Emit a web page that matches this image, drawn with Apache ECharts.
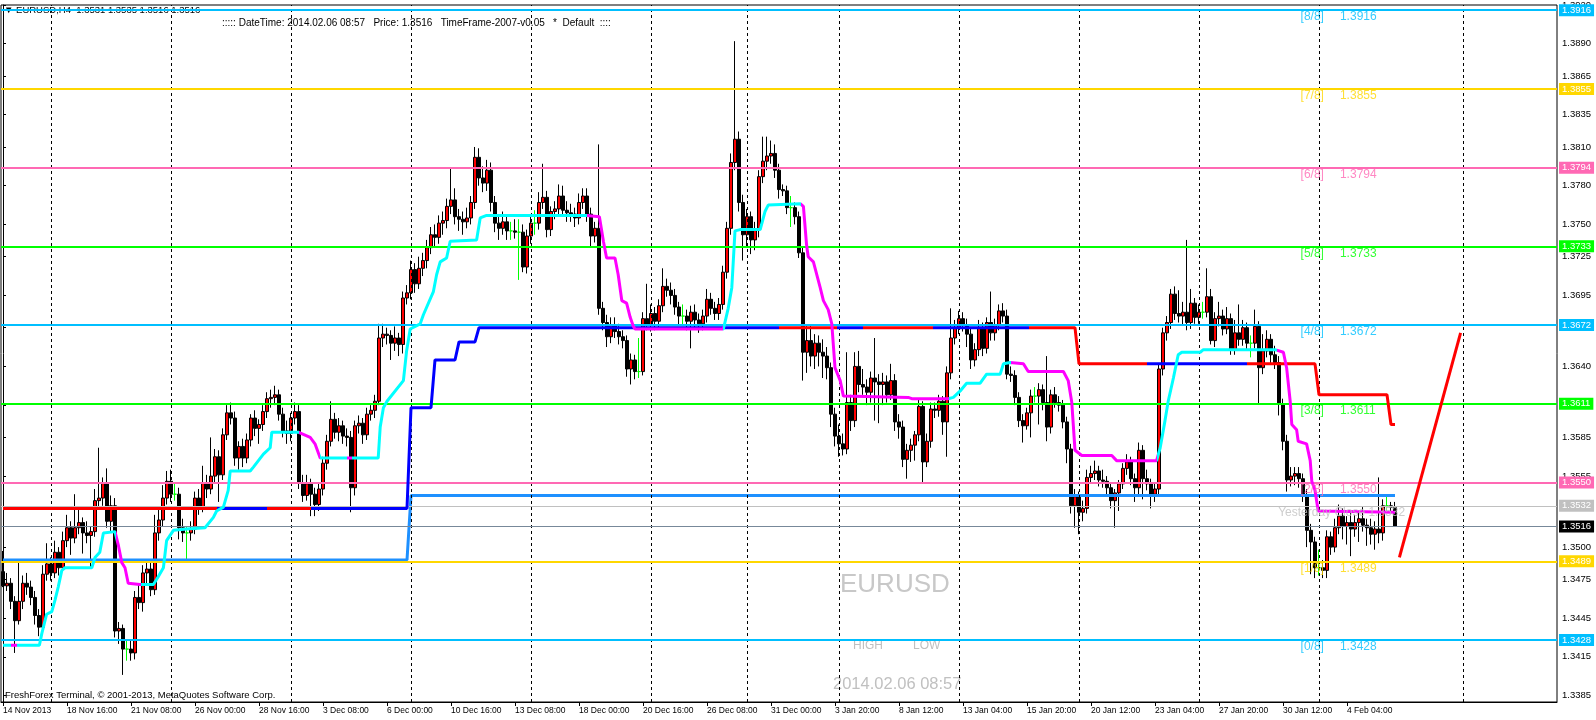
<!DOCTYPE html>
<html>
<head>
<meta charset="utf-8">
<script src="https://cdn.jsdelivr.net/npm/echarts/dist/echarts.min.js"></script>
<style>html,body{margin:0;padding:0;background:#fff}#c{width:1596px;height:720px}</style>
</head>
<body>
<div id="c"></div>
<script>
// ---------------- DATA ----------------
const xTickLabels = ['14 Nov 2013','18 Nov 16:00','21 Nov 08:00','26 Nov 00:00','28 Nov 16:00','3 Dec 08:00','6 Dec 00:00','10 Dec 16:00','13 Dec 08:00','18 Dec 00:00','20 Dec 16:00','26 Dec 08:00','31 Dec 00:00','3 Jan 20:00','8 Jan 12:00','13 Jan 04:00','15 Jan 20:00','20 Jan 12:00','23 Jan 04:00','27 Jan 20:00','30 Jan 12:00','4 Feb 04:00'];
const yTickValues = [1.3385,1.3415,1.3445,1.3475,1.3500,1.3530,1.3555,1.3585,1.3610,1.3640,1.3670,1.3695,1.3725,1.3750,1.3780,1.3810,1.3835,1.3865,1.3890,1.3920];
const weekStartBars = [12,42,72,102,132,162,186,209,239,269,299,329,365];

// H4 bars: [open, high, low, close]
const ohlc = [
[1.3481,1.3497,1.3469,1.3470],[1.3470,1.3480,1.3466,1.3472],[1.3472,1.3476,1.3452,1.3458],[1.3458,1.3462,1.3418,1.3443],[1.3443,1.3488,1.3440,1.3458],[1.3458,1.3478,1.3452,1.3472],
[1.3472,1.3480,1.3463,1.3469],[1.3469,1.3474,1.3455,1.3461],[1.3461,1.3466,1.3440,1.3447],[1.3447,1.3452,1.3431,1.3438],[1.3438,1.3486,1.3435,1.3479],[1.3479,1.3503,1.3474,1.3487],
[1.3487,1.3492,1.3474,1.3480],[1.3480,1.3505,1.3476,1.3496],[1.3496,1.3500,1.3478,1.3484],[1.3484,1.3512,1.3481,1.3505],[1.3505,1.3525,1.3500,1.3515],[1.3515,1.3520,1.3494,1.3507],
[1.3507,1.3541,1.3503,1.3515],[1.3515,1.3530,1.3510,1.3519],[1.3519,1.3523,1.3495,1.3511],[1.3511,1.3520,1.3503,1.3509],[1.3509,1.3516,1.3484,1.3512],[1.3512,1.3545,1.3508,1.3536],
[1.3536,1.3577,1.3530,1.3538],[1.3538,1.3554,1.3532,1.3550],[1.3550,1.3561,1.3515,1.3520],[1.3520,1.3540,1.3512,1.3532],[1.3532,1.3538,1.3430,1.3435],[1.3435,1.3442,1.3425,1.3437],
[1.3437,1.3440,1.3401,1.3421],[1.3421,1.3428,1.3412,1.3421],[1.3421,1.3428,1.3412,1.3418],[1.3418,1.3466,1.3413,1.3461],[1.3461,1.3472,1.3452,1.3457],[1.3457,1.3486,1.3450,1.3480],
[1.3480,1.3490,1.3470,1.3483],[1.3483,1.3488,1.3462,1.3467],[1.3467,1.3525,1.3463,1.3511],[1.3511,1.3530,1.3505,1.3521],[1.3521,1.3548,1.3516,1.3538],[1.3538,1.3559,1.3533,1.3551],
[1.3551,1.3560,1.3535,1.3541],[1.3541,1.3550,1.3536,1.3541],[1.3541,1.3546,1.3506,1.3515],[1.3515,1.3522,1.3504,1.3511],[1.3511,1.3516,1.3489,1.3511],[1.3511,1.3520,1.3505,1.3514],
[1.3514,1.3543,1.3510,1.3538],[1.3538,1.3545,1.3525,1.3531],[1.3531,1.3563,1.3527,1.3550],[1.3550,1.3556,1.3538,1.3545],[1.3545,1.3585,1.3541,1.3555],[1.3555,1.3576,1.3550,1.3570],
[1.3570,1.3575,1.3535,1.3556],[1.3556,1.3592,1.3552,1.3587],[1.3587,1.3610,1.3583,1.3604],[1.3604,1.3612,1.3595,1.3600],[1.3600,1.3605,1.3563,1.3569],[1.3569,1.3582,1.3560,1.3578],
[1.3578,1.3584,1.3562,1.3569],[1.3569,1.3588,1.3565,1.3583],[1.3583,1.3603,1.3578,1.3600],[1.3600,1.3606,1.3586,1.3592],[1.3592,1.3599,1.3580,1.3595],[1.3595,1.3610,1.3590,1.3605],
[1.3605,1.3620,1.3600,1.3615],[1.3615,1.3622,1.3608,1.3616],[1.3616,1.3625,1.3610,1.3618],[1.3618,1.3622,1.3598,1.3603],[1.3603,1.3608,1.3585,1.3590],[1.3590,1.3598,1.3580,1.3588],
[1.3588,1.3604,1.3582,1.3600],[1.3600,1.3612,1.3595,1.3605],[1.3605,1.3610,1.3545,1.3550],[1.3550,1.3556,1.3535,1.3540],[1.3540,1.3556,1.3536,1.3549],[1.3549,1.3553,1.3524,1.3541],
[1.3541,1.3546,1.3524,1.3533],[1.3533,1.3550,1.3528,1.3545],[1.3545,1.3570,1.3540,1.3565],[1.3565,1.3587,1.3560,1.3582],[1.3582,1.3613,1.3578,1.3599],[1.3599,1.3604,1.3584,1.3589],
[1.3589,1.3600,1.3582,1.3594],[1.3594,1.3598,1.3580,1.3586],[1.3586,1.3592,1.3578,1.3585],[1.3585,1.3590,1.3527,1.3546],[1.3546,1.3598,1.3540,1.3594],[1.3594,1.3602,1.3588,1.3596],
[1.3596,1.3600,1.3580,1.3587],[1.3587,1.3608,1.3583,1.3603],[1.3603,1.3610,1.3598,1.3606],[1.3606,1.3618,1.3600,1.3613],[1.3613,1.3673,1.3610,1.3662],[1.3662,1.3673,1.3655,1.3665],
[1.3665,1.3670,1.3657,1.3664],[1.3664,1.3668,1.3645,1.3658],[1.3658,1.3671,1.3652,1.3662],[1.3662,1.3666,1.3648,1.3657],[1.3657,1.3698,1.3650,1.3693],[1.3693,1.3703,1.3688,1.3697],
[1.3697,1.3722,1.3692,1.3715],[1.3715,1.3720,1.3697,1.3704],[1.3704,1.3725,1.3700,1.3716],[1.3716,1.3728,1.3710,1.3722],[1.3722,1.3738,1.3716,1.3732],[1.3732,1.3748,1.3727,1.3742],
[1.3742,1.3750,1.3733,1.3740],[1.3740,1.3757,1.3735,1.3751],[1.3751,1.3760,1.3742,1.3753],[1.3753,1.3770,1.3747,1.3764],[1.3764,1.3794,1.3758,1.3769],[1.3769,1.3778,1.3750,1.3756],
[1.3756,1.3762,1.3745,1.3754],[1.3754,1.3760,1.3742,1.3752],[1.3752,1.3763,1.3747,1.3755],[1.3755,1.3772,1.3750,1.3767],[1.3767,1.3810,1.3762,1.3802],[1.3802,1.3809,1.3780,1.3786],
[1.3786,1.3795,1.3775,1.3782],[1.3782,1.3800,1.3776,1.3792],[1.3792,1.3798,1.3760,1.3767],[1.3767,1.3772,1.3744,1.3751],[1.3751,1.3758,1.3738,1.3747],[1.3747,1.3760,1.3742,1.3752],
[1.3752,1.3757,1.3738,1.3745],[1.3745,1.3752,1.3738,1.3745],[1.3745,1.3754,1.3739,1.3744],[1.3744,1.3754,1.3707,1.3744],[1.3744,1.3750,1.3713,1.3717],[1.3717,1.3746,1.3712,1.3741],
[1.3741,1.3756,1.3735,1.3751],[1.3751,1.3761,1.3742,1.3751],[1.3751,1.3775,1.3746,1.3767],[1.3767,1.3797,1.3762,1.3771],[1.3771,1.3776,1.3740,1.3746],[1.3746,1.3764,1.3741,1.3760],
[1.3760,1.3768,1.3754,1.3762],[1.3762,1.3781,1.3757,1.3772],[1.3772,1.3780,1.3756,1.3761],[1.3761,1.3768,1.3752,1.3759],[1.3759,1.3766,1.3752,1.3758],[1.3758,1.3763,1.3748,1.3755],
[1.3755,1.3774,1.3750,1.3767],[1.3767,1.3778,1.3762,1.3772],[1.3772,1.3778,1.3752,1.3758],[1.3758,1.3763,1.3733,1.3741],[1.3741,1.3752,1.3736,1.3747],[1.3747,1.3812,1.3680,1.3685],
[1.3685,1.3690,1.3668,1.3674],[1.3674,1.3680,1.3655,1.3663],[1.3663,1.3678,1.3658,1.3672],[1.3672,1.3678,1.3662,1.3667],[1.3667,1.3673,1.3657,1.3663],[1.3663,1.3668,1.3654,1.3660],
[1.3660,1.3664,1.3632,1.3638],[1.3638,1.3650,1.3626,1.3645],[1.3645,1.3649,1.3630,1.3636],[1.3636,1.3662,1.3631,1.3636],[1.3636,1.3682,1.3633,1.3677],[1.3677,1.3704,1.3668,1.3672],
[1.3672,1.3688,1.3667,1.3681],[1.3681,1.3686,1.3668,1.3675],[1.3675,1.3692,1.3670,1.3687],[1.3687,1.3716,1.3682,1.3702],[1.3702,1.3708,1.3694,1.3699],[1.3699,1.3705,1.3688,1.3695],
[1.3695,1.3700,1.3680,1.3686],[1.3686,1.3690,1.3672,1.3679],[1.3679,1.3688,1.3672,1.3679],[1.3679,1.3684,1.3668,1.3675],[1.3675,1.3687,1.3654,1.3682],[1.3682,1.3688,1.3670,1.3676],
[1.3676,1.3681,1.3666,1.3673],[1.3673,1.3684,1.3668,1.3679],[1.3679,1.3700,1.3674,1.3692],[1.3692,1.3697,1.3680,1.3685],[1.3685,1.3690,1.3676,1.3681],[1.3681,1.3693,1.3676,1.3688],
[1.3688,1.3718,1.3684,1.3713],[1.3713,1.3752,1.3708,1.3747],[1.3747,1.3805,1.3742,1.3798],[1.3798,1.3892,1.3792,1.3816],[1.3816,1.3822,1.3760,1.3767],[1.3767,1.3773,1.3722,1.3742],
[1.3742,1.3762,1.3732,1.3756],[1.3756,1.3760,1.3727,1.3738],[1.3738,1.3752,1.3730,1.3746],[1.3746,1.3792,1.3740,1.3787],[1.3787,1.3818,1.3782,1.3799],[1.3799,1.3818,1.3792,1.3803],
[1.3803,1.3815,1.3797,1.3805],[1.3805,1.3812,1.3786,1.3792],[1.3792,1.3797,1.3770,1.3777],[1.3777,1.3781,1.3772,1.3776],[1.3776,1.3780,1.3758,1.3763],[1.3763,1.3772,1.3748,1.3763],
[1.3763,1.3767,1.3750,1.3756],[1.3756,1.3760,1.3724,1.3728],[1.3728,1.3733,1.3629,1.3651],[1.3651,1.3672,1.3635,1.3660],[1.3660,1.3672,1.3640,1.3648],[1.3648,1.3665,1.3638,1.3658],
[1.3658,1.3664,1.3640,1.3651],[1.3651,1.3661,1.3631,1.3648],[1.3648,1.3655,1.3630,1.3639],[1.3639,1.3643,1.3593,1.3603],[1.3603,1.3608,1.3578,1.3586],[1.3586,1.3595,1.3570,1.3580],
[1.3580,1.3588,1.3571,1.3576],[1.3576,1.3651,1.3572,1.3612],[1.3612,1.3618,1.3590,1.3598],[1.3598,1.3651,1.3593,1.3640],[1.3640,1.3652,1.3620,1.3626],[1.3626,1.3638,1.3618,1.3624],
[1.3624,1.3630,1.3610,1.3620],[1.3620,1.3636,1.3612,1.3631],[1.3631,1.3662,1.3598,1.3628],[1.3628,1.3634,1.3596,1.3626],[1.3626,1.3635,1.3610,1.3628],[1.3628,1.3633,1.3612,1.3618],
[1.3618,1.3642,1.3614,1.3629],[1.3629,1.3634,1.3590,1.3597],[1.3597,1.3603,1.3584,1.3593],[1.3593,1.3598,1.3562,1.3568],[1.3568,1.3580,1.3553,1.3575],[1.3575,1.3584,1.3566,1.3579],
[1.3579,1.3590,1.3567,1.3587],[1.3587,1.3614,1.3582,1.3609],[1.3609,1.3613,1.3549,1.3566],[1.3566,1.3588,1.3562,1.3582],[1.3582,1.3612,1.3577,1.3607],[1.3607,1.3612,1.3600,1.3606],
[1.3606,1.3618,1.3601,1.3613],[1.3613,1.3617,1.3587,1.3597],[1.3597,1.3640,1.3570,1.3635],[1.3635,1.3685,1.3630,1.3662],[1.3662,1.3676,1.3657,1.3670],[1.3670,1.3683,1.3665,1.3677],
[1.3677,1.3682,1.3667,1.3672],[1.3672,1.3677,1.3655,1.3665],[1.3665,1.3669,1.3638,1.3645],[1.3645,1.3658,1.3640,1.3653],[1.3653,1.3676,1.3648,1.3670],[1.3670,1.3674,1.3648,1.3654],
[1.3654,1.3678,1.3650,1.3674],[1.3674,1.3698,1.3660,1.3666],[1.3666,1.3677,1.3660,1.3672],[1.3672,1.3688,1.3668,1.3683],[1.3683,1.3689,1.3674,1.3679],[1.3679,1.3684,1.3630,1.3634],
[1.3634,1.3640,1.3628,1.3633],[1.3633,1.3637,1.3610,1.3616],[1.3616,1.3620,1.3593,1.3598],[1.3598,1.3603,1.3581,1.3594],[1.3594,1.3608,1.3591,1.3604],[1.3604,1.3622,1.3585,1.3617],
[1.3617,1.3624,1.3612,1.3617],[1.3617,1.3627,1.3595,1.3622],[1.3622,1.3626,1.3606,1.3612],[1.3612,1.3648,1.3582,1.3593],[1.3593,1.3622,1.3588,1.3618],[1.3618,1.3624,1.3608,1.3612],
[1.3612,1.3617,1.3605,1.3610],[1.3610,1.3614,1.3592,1.3597],[1.3597,1.3601,1.3565,1.3576],[1.3576,1.3580,1.3526,1.3532],[1.3532,1.3545,1.3515,1.3539],[1.3539,1.3543,1.3510,1.3527],
[1.3527,1.3536,1.3520,1.3530],[1.3530,1.3560,1.3526,1.3554],[1.3554,1.3563,1.3550,1.3557],[1.3557,1.3567,1.3552,1.3559],[1.3559,1.3563,1.3547,1.3552],[1.3552,1.3560,1.3546,1.3551],
[1.3551,1.3555,1.3540,1.3546],[1.3546,1.3550,1.3530,1.3536],[1.3536,1.3545,1.3515,1.3542],[1.3542,1.3552,1.3528,1.3549],[1.3549,1.3565,1.3545,1.3561],[1.3561,1.3572,1.3556,1.3566],
[1.3566,1.3570,1.3548,1.3553],[1.3553,1.3557,1.3535,1.3546],[1.3546,1.3581,1.3541,1.3575],[1.3575,1.3579,1.3537,1.3553],[1.3553,1.3560,1.3544,1.3549],[1.3549,1.3553,1.3530,1.3541],
[1.3541,1.3550,1.3535,1.3545],[1.3545,1.3642,1.3540,1.3638],[1.3638,1.3670,1.3633,1.3666],[1.3666,1.3679,1.3660,1.3674],[1.3674,1.3700,1.3669,1.3696],[1.3696,1.3702,1.3676,1.3681],
[1.3681,1.3699,1.3674,1.3679],[1.3679,1.3690,1.3672,1.3682],[1.3682,1.3738,1.3668,1.3674],[1.3674,1.3700,1.3669,1.3689],[1.3689,1.3693,1.3673,1.3678],[1.3678,1.3688,1.3673,1.3682],
[1.3682,1.3690,1.3677,1.3682],[1.3682,1.3716,1.3678,1.3694],[1.3694,1.3700,1.3657,1.3660],[1.3660,1.3682,1.3655,1.3677],[1.3677,1.3690,1.3671,1.3679],[1.3679,1.3684,1.3664,1.3669],
[1.3669,1.3686,1.3665,1.3677],[1.3677,1.3681,1.3649,1.3653],[1.3653,1.3676,1.3649,1.3666],[1.3666,1.3688,1.3656,1.3661],[1.3661,1.3676,1.3656,1.3670],[1.3670,1.3674,1.3652,1.3658],
[1.3658,1.3664,1.3647,1.3658],[1.3658,1.3684,1.3654,1.3671],[1.3671,1.3675,1.3611,1.3639],[1.3639,1.3665,1.3634,1.3652],[1.3652,1.3668,1.3647,1.3661],[1.3661,1.3665,1.3642,1.3649],
[1.3649,1.3656,1.3638,1.3643],[1.3643,1.3648,1.3602,1.3611],[1.3611,1.3615,1.3575,1.3582],[1.3582,1.3587,1.3543,1.3552],[1.3552,1.3562,1.3547,1.3555],[1.3555,1.3562,1.3548,1.3557],
[1.3557,1.3562,1.3546,1.3553],[1.3553,1.3557,1.3535,1.3540],[1.3540,1.3545,1.3500,1.3513],[1.3513,1.3518,1.3479,1.3504],[1.3504,1.3508,1.3476,1.3484],[1.3484,1.3498,1.3478,1.3484],
[1.3484,1.3490,1.3476,1.3482],[1.3482,1.3513,1.3476,1.3508],[1.3508,1.3512,1.3494,1.3500],[1.3500,1.3522,1.3496,1.3515],[1.3515,1.3533,1.3510,1.3524],[1.3524,1.3530,1.3506,1.3516],
[1.3516,1.3524,1.3502,1.3519],[1.3519,1.3527,1.3493,1.3514],[1.3514,1.3525,1.3508,1.3519],[1.3519,1.3527,1.3504,1.3522],[1.3522,1.3531,1.3512,1.3517],[1.3517,1.3522,1.3501,1.3515],
[1.3515,1.3522,1.3502,1.3510],[1.3510,1.3520,1.3498,1.3514],[1.3514,1.3554,1.3503,1.3511],[1.3511,1.3537,1.3505,1.3532],[1.3532,1.3539,1.3527,1.3532],[1.3532,1.3535,1.3528,1.3531],
[1.3531,1.3535,1.3516,1.3516]
];

// Murrey Math levels
const murreyNames  = ['[0/8]','[1/8]','[2/8]','[3/8]','[4/8]','[5/8]','[6/8]','[7/8]','[8/8]'];
const murreyLevels = [1.3428,1.3489,1.3550,1.3611,1.3672,1.3733,1.3794,1.3855,1.3916];
const yesterdayClose = 1.3532;
const bidPrice = 1.3516;

// Step trend line (red / blue): [bar, price]
const trendA = [[0,1.3530],[101,1.3530],[102,1.3608],[107,1.3608],[108,1.3645],[113,1.3645],[114,1.3659],[118,1.3659],[119,1.3670],[268,1.3670],[269,1.3642],[328,1.3642],[329,1.3618],[346,1.3618],[347,1.3595],[348,1.3595]];
const trendAState = [[0,'dn'],[53.5,'up'],[66,'dn'],[77,'up'],[194,'dn'],[208.5,'up'],[215,'dn'],[232.5,'up'],[256.5,'dn'],[286,'up'],[311,'dn']];

// Range line (dodger blue)
const rangeB = [[0,1.3490],[101,1.3490],[102,1.3540],[348,1.3540]];

// Trailing line (aqua / magenta)
const trailC = [[0,1.3424],[9.1,1.3424],[9.7,1.3433],[10.9,1.3448],[12.2,1.3450],[13,1.3459],[13.8,1.3469],[14.7,1.3482],[15.5,1.3484],[22.2,1.3484],[23,1.3492],[24.2,1.3496],[25.1,1.3511],[28,1.3512],[28.8,1.3502],[29.7,1.3488],[30.5,1.3484],[31.3,1.3472],[34.2,1.3471],[37.6,1.3471],[38.8,1.3477],[40.1,1.3484],[40.9,1.3505],[42.6,1.3513],[45.9,1.3514],[50.5,1.3515],[52.6,1.3523],[53.4,1.3528],[55.1,1.3531],[56.3,1.3544],[56.8,1.3559],[61.8,1.3559],[62.6,1.3562],[65.1,1.3572],[66.8,1.3577],[67.2,1.3589],[73.8,1.3589],[76.8,1.3585],[78,1.3580],[79.3,1.3569],[93.8,1.3569],[94.3,1.3593],[95.1,1.3608],[96,1.3613],[100.1,1.3629],[100.9,1.3652],[101.8,1.3669],[104.3,1.3673],[105.1,1.3680],[107.6,1.3698],[108.4,1.3711],[109.3,1.3721],[110.9,1.3724],[111.8,1.3737],[118.4,1.3738],[119.3,1.3755],[120.9,1.3757],[145.9,1.3757],[149.1,1.3756],[150.1,1.3737],[150.9,1.3724],[153,1.3724],[153.8,1.3711],[154.7,1.3691],[155.9,1.3689],[156.8,1.3678],[157.6,1.3671],[158,1.3669],[180.1,1.3669],[181.3,1.3685],[182.2,1.3701],[183,1.3745],[184.3,1.3746],[189.3,1.3746],[190.5,1.3760],[191.3,1.3765],[199.3,1.3766],[200.1,1.3764],[200.9,1.3734],[201.3,1.3725],[202.6,1.3721],[204.3,1.3701],[205.1,1.3691],[206.3,1.3684],[207.2,1.3673],[208,1.3639],[209.3,1.3629],[210.1,1.3617],[226.3,1.3616],[227.2,1.3615],[236.3,1.3615],[237.6,1.3616],[239.3,1.3621],[240.9,1.3627],[244.3,1.3627],[245.9,1.3634],[249.3,1.3634],[250.1,1.3642],[251.8,1.3643],[255.1,1.3642],[256.3,1.3636],[265.1,1.3636],[266.3,1.3629],[267.2,1.3612],[268,1.3575],[269.7,1.3571],[277.2,1.3571],[278.4,1.3567],[288.4,1.3567],[289.3,1.3577],[290.5,1.3598],[291.3,1.3613],[292.6,1.3631],[293.8,1.3649],[294.7,1.3651],[299.3,1.3651],[300.1,1.3653],[318,1.3653],[320.1,1.3651],[320.9,1.3639],[321.8,1.3613],[322.2,1.3595],[323.4,1.3591],[323.8,1.3582],[325.9,1.3580],[326.8,1.3567],[327.2,1.3551],[328,1.3544],[328.8,1.3528],[348,1.3527]];
const trailCState = [[0,'up'],[2,'dn'],[3.5,'up'],[28.2,'dn'],[34.5,'up'],[74,'dn'],[79.3,'up'],[86,'dn'],[87.3,'up'],[146,'dn'],[180.1,'up'],[199.5,'dn'],[236.5,'up'],[252,'dn'],[288.5,'up'],[318.5,'dn']];

// Projection line
const projection = [[349.1,1.3492],[364.4,1.3666]];

// ---------------- LAYOUT / STYLE ----------------
const SLOTS = 389;
const SANS = "'Liberation Sans',Arial,sans-serif";
const DSB = '#00BFFF', GOLD = '#FFD700', PINK = '#FF69B4', LIME = '#00FF00';
const murreyColors = [DSB, GOLD, PINK, LIME, DSB, LIME, PINK, GOLD, DSB];
const TAG_BAR = 324.4, VAL_BAR = 334.25, YC_BAR = 318.8;

function pieces(states, colors) {
  return states.map((s, i) => ({
    gte: s[0], lt: i + 1 < states.length ? states[i + 1][0] : 10000, color: colors[s[1]]
  }));
}

const slots = Array.from({length: SLOTS}, (_, i) => String(i));
const tickShown = (i) => i % 16 === 0 && i / 16 < xTickLabels.length;

const candleData = ohlc.map(([o, h, l, c]) => {
  const v = [o, c, l, h];
  if (o === c) {
    return {value: v, itemStyle: {color: LIME, color0: LIME, borderColor: LIME, borderColor0: LIME}};
  }
  return v;
});

const hLines = murreyLevels.map((v, i) => ({
  yAxis: v,
  lineStyle: {color: murreyColors[i], width: 2, type: 'solid'},
  label: {backgroundColor: murreyColors[i]}
}));
hLines.push({yAxis: yesterdayClose, lineStyle: {color: '#C0C0C0', width: 1, type: 'solid'}, label: {backgroundColor: '#C0C0C0'}});
hLines.push({yAxis: bidPrice, lineStyle: {color: '#778899', width: 1, type: 'solid'}, label: {backgroundColor: '#000000'}});

const chart = echarts.init(document.getElementById('c'), null, {renderer: 'canvas'});
chart.setOption({
  animation: false,
  backgroundColor: '#ffffff',
  grid: {left: 1, top: 3, width: 1556, height: 699, show: true, borderColor: '#000', borderWidth: 1, backgroundColor: '#fff'},
  xAxis: [
    {
      type: 'category', data: slots, boundaryGap: true,
      axisLine: {show: true, lineStyle: {color: '#000', width: 1}},
      axisTick: {show: true, alignWithLabel: true, interval: tickShown, length: 4, lineStyle: {color: '#000'}},
      axisLabel: {interval: tickShown, formatter: (v, i) => xTickLabels[i / 16] || '', align: 'left', color: '#000', fontSize: 8.5, fontFamily: SANS, margin: 4},
      splitLine: {show: false}
    },
    {type: 'value', min: -0.5, max: SLOTS - 0.5, show: false}
  ],
  yAxis: {
    type: 'value', position: 'right', min: 1.3380, max: 1.3920,
    axisLine: {show: true, lineStyle: {color: '#000', width: 1}},
    axisTick: {show: true, length: 3, customValues: yTickValues, lineStyle: {color: '#000'}},
    axisLabel: {customValues: yTickValues, formatter: v => v.toFixed(4), color: '#000', fontSize: 9.5, fontFamily: SANS, margin: 5},
    splitLine: {show: false}
  },
  visualMap: [
    {type: 'piecewise', show: false, seriesIndex: 4, dimension: 0, pieces: pieces(trendAState, {dn: '#FF0000', up: '#0000FF'})},
    {type: 'piecewise', show: false, seriesIndex: 5, dimension: 0, pieces: pieces(trailCState, {up: '#00FFFF', dn: '#FF00FF'})}
  ],
  graphic: [
    {type: 'text', x: 4, y: 10, z: 0, style: {text: '\u25BC EURUSD,H4  1.3531 1.3535 1.3516 1.3516', font: '9.5px ' + SANS, fill: '#000', verticalAlign: 'middle'}},
    {type: 'text', x: 222, y: 23, z: 0, style: {text: '::::: DateTime: 2014.02.06 08:57   Price: 1.3516   TimeFrame-2007-v0.05   *  Default  ::::', font: '10px ' + SANS, fill: '#000', verticalAlign: 'middle'}},
    {type: 'text', x: 840, y: 585, z: 0, style: {text: 'EURUSD', font: '26px ' + SANS, fill: '#C8C8C8', verticalAlign: 'middle'}},
    {type: 'text', x: 853, y: 646, z: 0, style: {text: 'HIGH', font: '12px ' + SANS, fill: '#C0C0C0', verticalAlign: 'middle'}},
    {type: 'text', x: 913, y: 646, z: 0, style: {text: 'LOW', font: '12px ' + SANS, fill: '#C0C0C0', verticalAlign: 'middle'}},
    {type: 'text', x: 833, y: 684, z: 0, style: {text: '2014.02.06 08:57', font: '16.5px ' + SANS, fill: '#C0C0C0', verticalAlign: 'middle'}},
    {type: 'text', x: 5, y: 695, z: 0, style: {text: 'FreshForex Terminal, \u00A9 2001-2013, MetaQuotes Software Corp.', font: '9.5px ' + SANS, fill: '#000', verticalAlign: 'middle'}}
  ],
  series: [
    { // 0 weekly grid lines
      type: 'line', xAxisIndex: 1, data: [], z: 1, silent: true,
      markLine: {silent: true, symbol: ['none', 'none'], animation: false, precision: 4,
        lineStyle: {color: '#000', width: 1, type: [3, 3]}, label: {show: false},
        data: weekStartBars.map(b => ({xAxis: b}))}
    },
    { // 1 candles
      type: 'candlestick', xAxisIndex: 0, data: candleData, barWidth: 3, z: 2,
      itemStyle: {color: '#FF0000', color0: '#000000', borderColor: '#000000', borderColor0: '#000000', borderWidth: 1}
    },
    { // 2 range line
      type: 'line', xAxisIndex: 1, data: rangeB, showSymbol: false, symbol: 'none', z: 3,
      lineStyle: {color: '#1E90FF', width: 3}
    },
    { // 3 horizontal levels
      type: 'line', xAxisIndex: 1, data: [], z: 4, silent: true,
      markLine: {silent: true, symbol: ['none', 'none'], animation: false, precision: 4,
        label: {show: true, position: 'end', distance: 2, formatter: p => Number(p.value).toFixed(4), color: '#fff', fontSize: 9.5, fontFamily: SANS, padding: [1, 3, 1, 3], lineHeight: 10},
        data: hLines}
    },
    { // 4 step trend
      type: 'line', xAxisIndex: 1, data: trendA, showSymbol: false, symbol: 'none', z: 5,
      lineStyle: {width: 3}
    },
    { // 5 trailing line
      type: 'line', xAxisIndex: 1, data: trailC, showSymbol: false, symbol: 'none', z: 6,
      lineStyle: {width: 3}
    },
    { // 6 projection
      type: 'line', xAxisIndex: 1, data: projection, showSymbol: false, symbol: 'none', z: 6,
      lineStyle: {color: '#FF0000', width: 3}
    },
    { // 7 level tags
      type: 'scatter', xAxisIndex: 1, symbolSize: 0.1, z: 7, silent: true,
      itemStyle: {color: 'rgba(0,0,0,0)'},
      label: {show: true, position: [0, 1], align: 'left', verticalAlign: 'top', fontSize: 12, fontFamily: SANS, formatter: p => p.name},
      data: murreyLevels.map((v, i) => ({name: murreyNames[i], value: [TAG_BAR, v], label: {color: murreyColors[i]}}))
    },
    { // 8 level values
      type: 'scatter', xAxisIndex: 1, symbolSize: 0.1, z: 7, silent: true,
      itemStyle: {color: 'rgba(0,0,0,0)'},
      label: {show: true, position: [0, 1], align: 'left', verticalAlign: 'top', fontSize: 12, fontFamily: SANS, formatter: p => p.value[1].toFixed(4)},
      data: murreyLevels.map((v, i) => ({value: [VAL_BAR, v], label: {color: murreyColors[i]}}))
    },
    { // 9 yesterday close text
      type: 'scatter', xAxisIndex: 1, symbolSize: 0.1, z: 7, silent: true,
      itemStyle: {color: 'rgba(0,0,0,0)'},
      label: {show: true, position: [0, 1], align: 'left', verticalAlign: 'top', fontSize: 12, fontFamily: SANS, color: '#C0C0C0', formatter: p => 'Yesterday Close ' + p.value[1].toFixed(4)},
      data: [[YC_BAR, yesterdayClose]]
    }
  ]
});
</script>
</body>
</html>
